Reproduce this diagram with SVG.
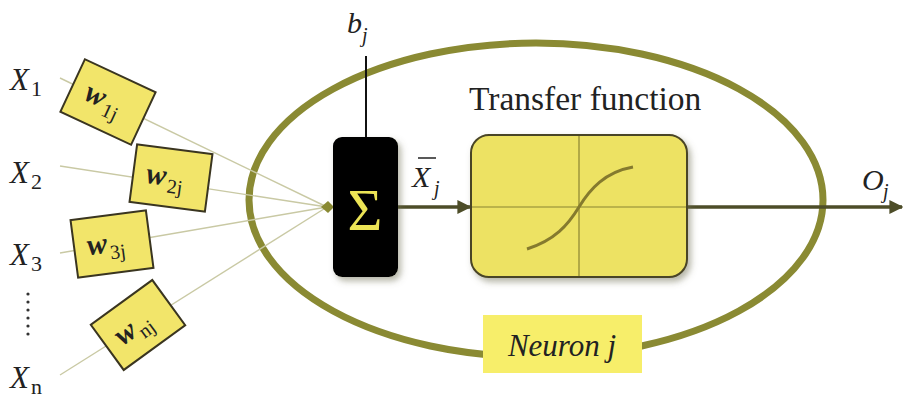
<svg xmlns="http://www.w3.org/2000/svg" width="904" height="401" viewBox="0 0 904 401" font-family="'Liberation Serif', 'Times New Roman', 'DejaVu Serif', serif">
<defs>
<filter id="sh" x="-20%" y="-20%" width="150%" height="150%">
<feDropShadow dx="3" dy="4" stdDeviation="3" flood-color="#6b6b50" flood-opacity="0.5"/>
</filter>
<marker id="ah" viewBox="0 0 10 10" refX="9" refY="5" markerWidth="4" markerHeight="4" orient="auto" markerUnits="strokeWidth">
<path d="M0,0 L10,5 L0,10 z" fill="#4d4d28"/>
</marker>
<style>
text{font-family:'Liberation Serif','Times New Roman','DejaVu Serif',serif}
.t{fill:#222}
.i{font-style:italic}
.in{stroke:#c9c9a4;stroke-width:1.4;fill:none}
.wb{fill:#f2e56a;stroke:#3a3520;stroke-width:2}
.wl{fill:#222;font-size:30px;font-weight:bold;font-style:italic}
.ws{fill:#222;font-size:20px}
.ar{stroke:#4d4d28;stroke-width:3.5;fill:none}
</style>
</defs>
<rect width="904" height="401" fill="#fff"/>

<g id="neuron-boundary">
<ellipse cx="536" cy="200" rx="287" ry="157" fill="none" stroke="#8a8a33" stroke-width="7"/>
</g>

<g id="connectors">
<line class="in" x1="60" y1="78" x2="327" y2="207"/>
<line class="in" x1="60" y1="166" x2="327" y2="207"/>
<line class="in" x1="60" y1="253" x2="327" y2="207"/>
<line class="in" x1="60" y1="375" x2="327" y2="207"/>
<path d="M321,207 L328,201 L334,207 L328,213 z" fill="#8a8a33"/>
<line x1="366" y1="56" x2="366" y2="138" stroke="#111" stroke-width="2"/>
<line class="ar" x1="398" y1="207" x2="470" y2="207" marker-end="url(#ah)"/>
<line class="ar" x1="687" y1="207" x2="902" y2="207" marker-end="url(#ah)"/>
</g>

<g id="inputs">
<text class="t i" x="10" y="90" font-size="31">X</text><text class="t" x="31" y="96" font-size="22">1</text>
<text class="t i" x="10" y="183" font-size="31">X</text><text class="t" x="31" y="189" font-size="22">2</text>
<text class="t i" x="10" y="265" font-size="31">X</text><text class="t" x="31" y="271" font-size="22">3</text>
<text class="t i" x="10" y="388" font-size="31">X</text><text class="t" x="31" y="394" font-size="22">n</text>
<g fill="#333">
<circle cx="28" cy="294" r="1.6"/><circle cx="28" cy="302" r="1.6"/><circle cx="28" cy="310" r="1.6"/><circle cx="28" cy="318" r="1.6"/><circle cx="28" cy="326" r="1.6"/><circle cx="28" cy="334" r="1.6"/>
</g>
</g>

<g id="w1j" transform="translate(108,102) rotate(25)">
<rect class="wb" x="-39" y="-29" width="78" height="58"/>
<text class="wl" x="-24" y="8">w</text><text class="ws" x="-2" y="15">1j</text>
</g>
<g id="w2j" transform="translate(171,178) rotate(7.5)">
<rect class="wb" x="-38" y="-29" width="76" height="58"/>
<text class="wl" x="-25" y="8">w</text><text class="ws" x="-3" y="15">2j</text>
</g>
<g id="w3j" transform="translate(112,244) rotate(-7.5)">
<rect class="wb" x="-38" y="-29" width="76" height="58"/>
<text class="wl" x="-25" y="8">w</text><text class="ws" x="-3" y="15">3j</text>
</g>
<g id="wnj" transform="translate(138,325) rotate(-36)">
<rect class="wb" x="-38" y="-28" width="76" height="56"/>
<text class="wl" x="-25" y="8">w</text><text class="ws" x="-3" y="15">nj</text>
</g>

<g id="bias">
<text class="t i" x="347" y="33" font-size="30">b</text><text class="t i" x="362" y="42" font-size="20">j</text>
</g>

<g id="sum">
<rect x="333" y="137" width="65" height="140" rx="9" fill="#000" filter="url(#sh)"/>
<text x="365" y="230" text-anchor="middle" font-size="60" fill="#ece455">Σ</text>
</g>

<g id="xbar">
<line x1="418" y1="158" x2="436" y2="158" stroke="#222" stroke-width="1.5"/>
<text class="t i" x="412" y="187" font-size="30">X</text><text class="t i" x="434" y="195" font-size="20">j</text>
</g>

<g id="transfer">
<text class="t" x="469" y="110" font-size="33.5">Transfer function</text>
<rect x="471" y="135" width="216" height="142" rx="18" fill="#ede263" stroke="#4a4426" stroke-width="2" filter="url(#sh)"/>
<line x1="579" y1="136" x2="579" y2="276" stroke="#8a8433" stroke-width="1.2"/>
<line x1="472" y1="207" x2="686" y2="207" stroke="#8a8433" stroke-width="1.2"/>
<path d="M527,249 C555,240 568,225 579,207 C590,189 605,172 633,167" fill="none" stroke="#857a2e" stroke-width="3"/>
</g>

<g id="output">
<text class="t i" x="862" y="190" font-size="30">O</text><text class="t i" x="883" y="198" font-size="20">j</text>
</g>

<g id="neuron-label">
<rect x="483" y="315" width="159" height="58" fill="#f7ee6a"/>
<text class="t i" x="562" y="356" font-size="31" text-anchor="middle">Neuron j</text>
</g>
</svg>
